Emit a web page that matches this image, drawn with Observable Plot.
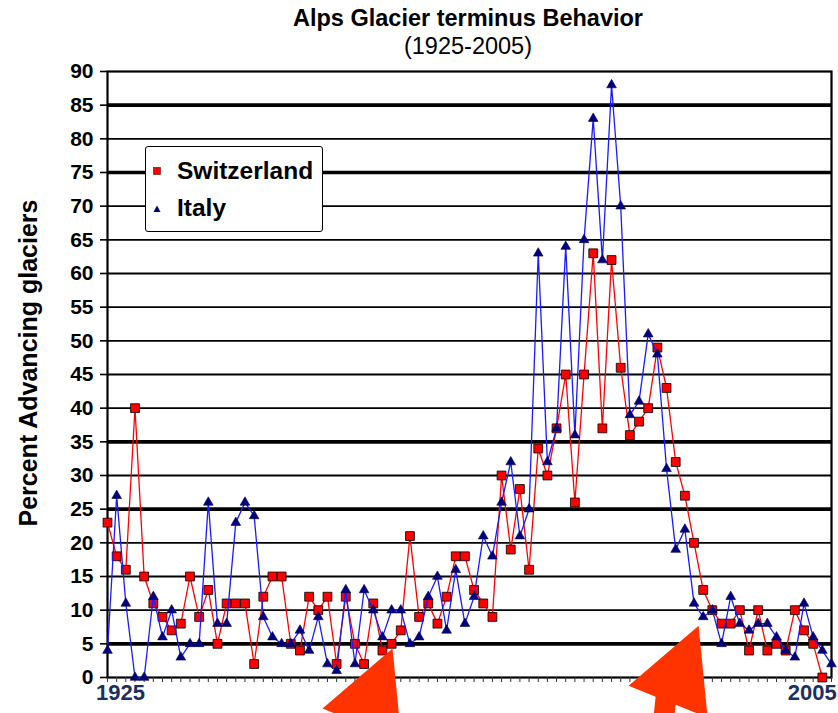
<!DOCTYPE html>
<html>
<head>
<meta charset="utf-8">
<script src="https://cdn.jsdelivr.net/npm/d3@7"></script>
<script src="https://cdn.jsdelivr.net/npm/@observablehq/plot@0.6"></script>
<style>
  body { margin: 0; background: #fff; font-family: "Liberation Sans", Arial, sans-serif; }
  #chart { position: relative; width: 838px; height: 713px; overflow: hidden; }
  #chart svg { position: absolute; left: 0; top: 0; }
  .lbl { position: absolute; line-height: 1; white-space: nowrap; color: #000; }
  .title { left: 168px; width: 600px; text-align: center; font-size: 23.5px; }
  .legend-box { position: absolute; left: 145px; top: 146px; width: 178px; height: 86px;
    box-sizing: border-box; border: 1.5px solid #000; border-radius: 3px; background: #fff; }
  .legend-mark { position: absolute; }
</style>
</head>
<body>
<div id="chart"></div>
<script>
// Years of record and share of glaciers advancing (%) per country
const years = d3.range(1925, 2005);
const switzerland = [
  23, 18, 16, 40, 15, 11, 9, 7, 8, 15,      // 1925-1934
  9, 13, 5, 11, 11, 11, 2, 12, 15, 15,      // 1935-1944
  5, 4, 12, 10, 12, 2, 12, 5, 2, 11,        // 1945-1954
  4, 5, 7, 21, 9, 11, 8, 12, 18, 18,        // 1955-1964
  13, 11, 9, 30, 19, 28, 16, 34, 30, 37,    // 1965-1974
  45, 26, 45, 63, 37, 62, 46, 36, 38, 40,   // 1975-1984
  49, 43, 32, 27, 20, 13, 10, 8, 8, 10,     // 1985-1994
  4, 10, 4, 5, 4, 10, 7, 5, 0, null         // 1995-2004
];
const italy = [
  4, 27, 11, 0, 0, 12, 6, 10, 3, 5,         // 1925-1934
  5, 26, 8, 8, 23, 26, 24, 9, 6, 5,         // 1935-1944
  5, 7, 4, 9, 2, 1, 13, 2, 13, 10,          // 1945-1954
  6, 10, 10, 5, 6, 12, 15, 7, 16, 8,        // 1955-1964
  12, 21, 18, 26, 32, 21, 25, 63, 32, 37,   // 1965-1974
  64, 36, 65, 83, 62, 88, 70, 39, 41, 51,   // 1975-1984
  48, 31, 19, 22, 11, 9, 10, 5, 12, 8,      // 1985-1994
  7, 8, 8, 6, 4, 3, 11, 6, 4, 2             // 1995-2004
];
const seriesNames = ["Switzerland", "Italy"];
const yTicks = d3.range(0, 95, 5);
const gridValues = d3.range(5, 90, 5);
const heavyGrid = [5, 25, 35, 75, 85];
const xLabelYears = [1925, 2005];
const xLabelTexts = ["1925", "2005"];
const arrowTips = [
  {year: 1956.1, value: 4.3},
  {year: 1989.5, value: 7.7}
];

const rows = years.map((year, i) => ({year, swiss: switzerland[i], italy: italy[i]}));

// Block arrow, drawn with its tip at the symbol origin
const blockArrow = {
  draw(context) {
    context.moveTo(0, 0);
    context.lineTo(-70, 60);
    context.lineTo(-43, 71);
    context.lineTo(-56, 200);
    context.lineTo(-36, 200);
    context.lineTo(-23, 79);
    context.lineTo(9, 92);
    context.closePath();
  }
};

const font = "Liberation Sans, Arial, sans-serif";

const plot = Plot.plot({
  width: 838,
  height: 713,
  marginLeft: 107,
  marginRight: 7,
  marginTop: 71,
  marginBottom: 36,
  x: {domain: [1925, 2004]},
  y: {domain: [0, 90]},
  style: {fontFamily: font, background: "transparent", overflow: "visible"},
  marks: [
    Plot.ruleY(gridValues, {
      stroke: "#000",
      strokeWidth: d => heavyGrid.includes(d) ? 3.6 : 1.8
    }),
    Plot.frame({stroke: "#000", strokeWidth: 2.2}),
    Plot.axisY({
      ticks: yTicks, tickSize: 7, tickPadding: 7, strokeWidth: 1.6,
      fontSize: 21, fontWeight: "bold", fill: "#000", label: null
    }),
    Plot.axisX({
      ticks: years, tickSize: 5, tickFormat: () => "", stroke: "#333", label: null
    }),
    Plot.text([0], {
      x: () => xLabelYears[0], text: () => xLabelTexts[0], frameAnchor: "bottom",
      dy: 22, dx: 13, fontSize: 22, fontWeight: "bold", fill: "#1c2f5e"
    }),
    Plot.text([1], {
      x: () => xLabelYears[1], text: () => xLabelTexts[1], frameAnchor: "bottom",
      dy: 22, dx: -4, textAnchor: "end", fontSize: 22, fontWeight: "bold", fill: "#1c2f5e"
    }),
    // Switzerland
    Plot.line(rows, {x: "year", y: "swiss", stroke: "#ff0000", strokeWidth: 1.3}),
    Plot.dot(rows, {x: "year", y: "swiss", symbol: "square", r: 5,
      fill: "#ff0000", stroke: "#000", strokeWidth: 0.8}),
    // Italy
    Plot.line(rows, {x: "year", y: "italy", stroke: "#1a1aff", strokeWidth: 1.3}),
    Plot.dot(rows, {x: "year", y: "italy", symbol: "triangle", r: 3.6,
      fill: "#000080", stroke: "#000050", strokeWidth: 0.6}),
    // Pointer arrows
    Plot.dot(arrowTips, {x: "year", y: "value", symbol: blockArrow, r: 10,
      fill: "#ff3300", stroke: "none"})
  ]
});

const chart = document.getElementById("chart");
chart.appendChild(plot);

function addLabel(cls, text, style) {
  const el = document.createElement("div");
  el.className = "lbl " + cls;
  el.textContent = text;
  Object.assign(el.style, style);
  chart.appendChild(el);
  return el;
}

addLabel("title", "Alps Glacier terminus Behavior", {top: "7px", fontWeight: "bold"});
addLabel("title", "(1925-2005)", {top: "35px", fontWeight: "normal"});
addLabel("", "Percent Advancing glaciers", {
  left: "28px", top: "363px", fontSize: "25px", fontWeight: "bold",
  transform: "translate(-50%, -50%) rotate(-90deg)"
});

// Legend
const box = document.createElement("div");
box.className = "legend-box";
chart.appendChild(box);

const ns = "http://www.w3.org/2000/svg";
function legendMark(cx, cy, kind) {
  const svg = document.createElementNS(ns, "svg");
  svg.setAttribute("width", 14);
  svg.setAttribute("height", 14);
  svg.setAttribute("class", "legend-mark");
  svg.style.left = (cx - 7) + "px";
  svg.style.top = (cy - 7) + "px";
  let shape;
  if (kind === "square") {
    shape = document.createElementNS(ns, "rect");
    shape.setAttribute("x", 3.5); shape.setAttribute("y", 3.5);
    shape.setAttribute("width", 7); shape.setAttribute("height", 7);
    shape.setAttribute("fill", "#ff0000");
    shape.setAttribute("stroke", "#600");
    shape.setAttribute("stroke-width", 0.6);
  } else {
    shape = document.createElementNS(ns, "path");
    shape.setAttribute("d", "M7,3.5L10.5,10L3.5,10Z");
    shape.setAttribute("fill", "#000080");
  }
  svg.appendChild(shape);
  chart.appendChild(svg);
}
legendMark(157, 171, "square");
legendMark(157, 209, "triangle");
addLabel("", seriesNames[0], {left: "177px", top: "159px", fontSize: "24.5px", fontWeight: "bold"});
addLabel("", seriesNames[1], {left: "177px", top: "196px", fontSize: "24.5px", fontWeight: "bold"});
</script>
</body>
</html>
